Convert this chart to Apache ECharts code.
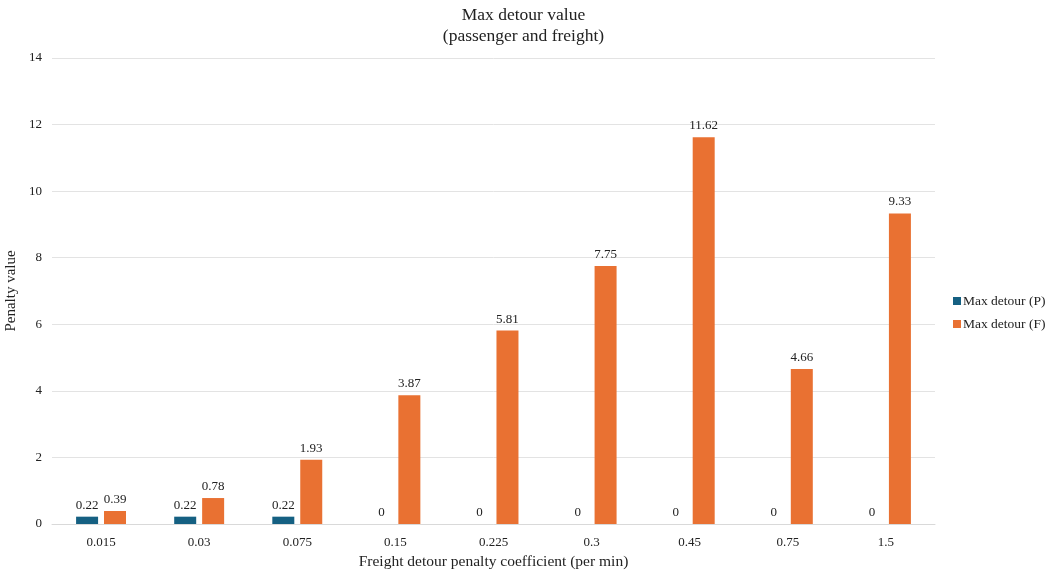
<!DOCTYPE html>
<html><head><meta charset="utf-8">
<script src="https://cdn.jsdelivr.net/npm/echarts@6/dist/echarts.min.js"></script>
<style>html,body{margin:0;padding:0;background:#fff}#c{width:1047px;height:574px}</style>
</head><body><div id="c"></div>
<script>
const categories = ['0.015','0.03','0.075','0.15','0.225','0.3','0.45','0.75','1.5'];
const maxDetourP = [0.22,0.22,0.22,0,0,0,0,0,0];
const maxDetourF = [0.39,0.78,1.93,3.87,5.81,7.75,11.62,4.66,9.33];
const font = '"Liberation Serif", "Times New Roman", serif';
const chart = echarts.init(document.getElementById('c'));
const lbl = {show:true, position:'top', fontFamily:font, fontSize:13, color:'#222', distance:5};
chart.setOption({
  animation:false,
  textStyle:{fontFamily:font},
  title:{text:'Max detour value\n(passenger and freight)', left:'center', top:0,
    textStyle:{fontFamily:font, fontSize:17.5, fontWeight:'normal', color:'#222', lineHeight:21}},
  legend:{orient:'vertical', left:948, top:289, itemWidth:8, itemHeight:8, itemGap:9, icon:'rect',
    textStyle:{fontFamily:font, fontSize:13.5, color:'#222', padding:[0,0,0,-3]},
    data:['Max detour (P)','Max detour (F)']},
  grid:{left:52, right:112, top:58, bottom:50, outerBoundsMode:'none', containLabel:false},
  xAxis:{type:'category', data:categories,
    name:'Freight detour penalty coefficient (per min)', nameLocation:'middle', nameGap:30,
    nameTextStyle:{fontFamily:font, fontSize:15.5, color:'#222'},
    axisLine:{lineStyle:{color:'#d9d9d9'}}, axisTick:{show:false},
    axisLabel:{fontFamily:font, fontSize:13, color:'#222', margin:12}},
  yAxis:{type:'value', min:0, max:14, interval:2,
    name:'Penalty value', nameLocation:'middle', nameGap:14,
    nameTextStyle:{fontFamily:font, fontSize:15, color:'#222'},
    axisLine:{show:false}, axisTick:{show:false},
    splitLine:{lineStyle:{color:'#e3e3e3'}},
    axisLabel:{fontFamily:font, fontSize:13, color:'#222', margin:10}},
  series:[
    {name:'Max detour (P)', type:'bar', data:maxDetourP, barWidth:22, barGap:'27%',
     itemStyle:{color:'#156082'}, label:lbl},
    {name:'Max detour (F)', type:'bar', data:maxDetourF, barWidth:22,
     itemStyle:{color:'#E97132'}, label:lbl}
  ]
});
</script></body></html>
